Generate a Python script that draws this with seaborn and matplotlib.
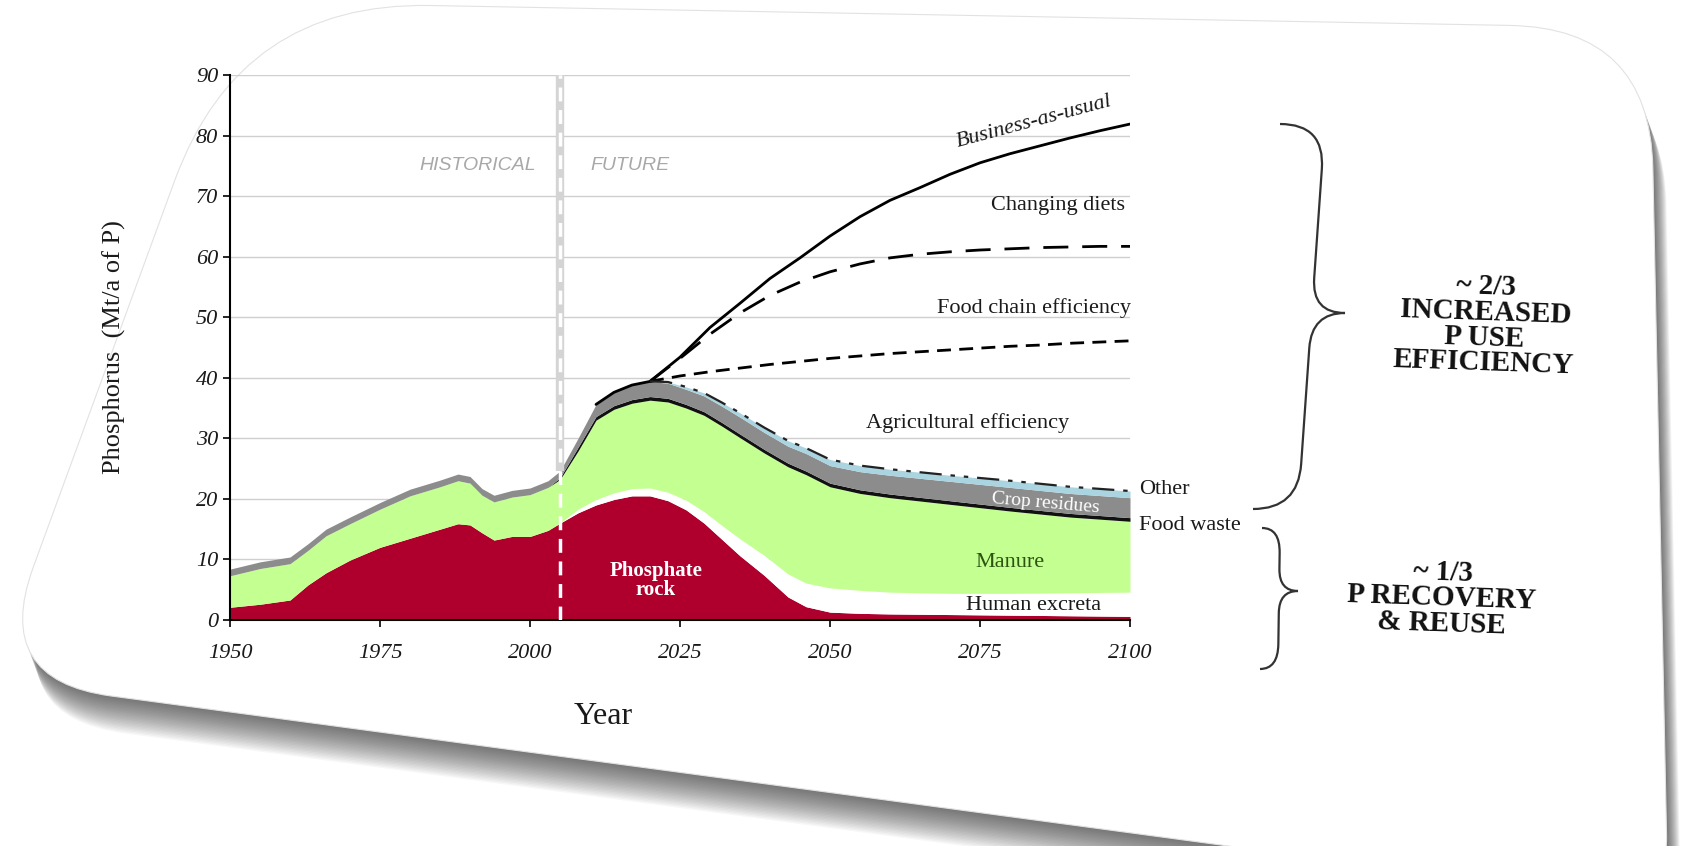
import numpy as np
import seaborn as sns
import matplotlib.pyplot as plt
from matplotlib.path import Path
from matplotlib.patches import PathPatch

W, H = 1691, 846

# stacked supply sources (Mt/a of P)
years = [1950, 1955, 1960, 1963, 1966, 1970, 1975, 1980, 1985, 1988,
         1990, 1992, 1994, 1997, 2000, 2003, 2005, 2008, 2011, 2014,
         2017, 2020, 2023, 2026, 2029, 2032, 2035, 2039, 2043, 2046,
         2050, 2055, 2060, 2070, 2080, 2090, 2100]
rock = [2.1, 2.6, 3.3, 5.8, 7.8, 9.9, 12.0, 13.5, 15.0, 15.9,
        15.7, 14.4, 13.2, 13.8, 13.8, 14.8, 16.0, 17.7, 19.0, 19.9,
        20.5, 20.5, 19.7, 18.2, 16.0, 13.3, 10.6, 7.4, 3.8, 2.2,
        1.3, 1.1, 1.0, 0.9, 0.8, 0.7, 0.6]
excreta = [0] * 17 + [0.6, 0.9, 1.1, 1.2, 1.3, 1.4, 1.6, 1.9, 2.3, 2.8,
                      3.3, 3.8, 3.9, 4.0, 3.8, 3.6, 3.5, 3.6, 3.8, 4.0]
manure = [5.2, 5.9, 6.0, 5.7, 6.1, 6.0, 6.3, 7.0, 7.0, 7.1,
          6.9, 6.2, 6.3, 6.5, 6.9, 7.1, 7.2, 9.6, 13.1, 13.8,
          14.1, 14.5, 14.9, 15.2, 15.9, 16.4, 16.7, 16.9, 17.7, 17.9,
          16.7, 16.0, 15.6, 14.7, 13.6, 12.5, 11.7]
food_waste = [0] * 16 + [0.3] + [0.6] * 20
crop_residues = [1.1] * 17 + [1.5, 2.0, 2.2, 2.4, 2.5, 2.5, 2.5, 2.6, 2.7, 2.8,
                              2.8, 2.8, 2.9, 2.9, 3.0, 3.1, 3.2, 3.3, 3.3, 3.3]
other = [0] * 22 + [0.2, 0.4, 0.5, 0.6, 0.7, 0.8, 0.9, 0.9, 1.0, 1.0,
                    1.0, 1.0, 1.1, 1.1, 1.1]

# demand scenarios
scen_years = list(range(2020, 2101, 5))
bau_years = [2011, 2014, 2017] + scen_years
bau = [35.6, 37.6, 38.8,
       39.4, 43.4, 48.3, 52.3, 56.4, 59.8, 63.4, 66.6, 69.3, 71.4, 73.6,
       75.5, 77.0, 78.3, 79.6, 80.8, 81.9]
diets = [39.4, 43.2, 47.2, 50.7, 53.6, 55.8, 57.5, 58.8, 59.8, 60.4,
         60.8, 61.1, 61.3, 61.5, 61.6, 61.7, 61.7]
food_chain = [39.4, 40.3, 41.0, 41.6, 42.2, 42.7, 43.2, 43.6, 44.0, 44.3,
              44.6, 44.9, 45.2, 45.4, 45.7, 45.9, 46.1]

x_ticks = [1950, 1975, 2000, 2025, 2050, 2075, 2100]
y_ticks = list(range(0, 91, 10))
divider_year = 2005

sns.set_theme(style="white")
plt.rcParams['font.family'] = ['Liberation Serif', 'DejaVu Serif']

fig = plt.figure(figsize=(W / 100, H / 100), dpi=100)
fig.patch.set_facecolor('white')


def fpos(x, y):
    # pixel (from top left) -> figure fraction
    return x / W, 1 - y / H


def rounded_path(corners, radii, dx=0, dy=0):
    pts = [np.array(c, float) + (dx, dy) for c in corners]
    n = len(pts)
    verts, codes = [], []
    for i in range(n):
        p, prev, nxt = pts[i], pts[i - 1], pts[(i + 1) % n]
        a = p + radii[i] * (prev - p) / np.linalg.norm(prev - p)
        b = p + radii[i] * (nxt - p) / np.linalg.norm(nxt - p)
        verts.append(a)
        codes.append(Path.MOVETO if i == 0 else Path.LINETO)
        verts += [p, b]
        codes += [Path.CURVE3, Path.CURVE3]
    verts.append(verts[0])
    codes.append(Path.CLOSEPOLY)
    return Path([fpos(*v) for v in verts], codes)


# tilted card with a soft shadow
card = [(240, 2), (1650, 28), (1668, 905), (-8, 680)]
card_r = [190, 140, 70, 120]
for k in range(1, 26):
    fig.add_artist(PathPatch(rounded_path(card, card_r, 0.55 * k, 1.5 * k),
                             transform=fig.transFigure, facecolor='#2a2a2a',
                             edgecolor='none', alpha=0.035, zorder=-10))
fig.add_artist(PathPatch(rounded_path(card, card_r), transform=fig.transFigure,
                         facecolor='white', edgecolor='#e2e2e2', lw=0.8, zorder=-9))


def brace(top, bottom, tip, end_off, curl, tip_curl):
    (xt, yt), (xb, yb), (xm, ym) = top, bottom, tip

    def sx(y):
        return xt + (xb - xt) * (y - yt) / (yb - yt)

    v = [(sx(yt) - end_off, yt), (sx(yt), yt), (sx(yt + curl), yt + curl),
         (sx(ym - tip_curl), ym - tip_curl), (sx(ym), ym), (xm, ym),
         (sx(ym), ym), (sx(ym + tip_curl), ym + tip_curl),
         (sx(yb - curl), yb - curl), (sx(yb), yb), (sx(yb) - end_off, yb)]
    c = [Path.MOVETO, Path.CURVE3, Path.CURVE3, Path.LINETO, Path.CURVE3, Path.CURVE3,
         Path.CURVE3, Path.CURVE3, Path.LINETO, Path.CURVE3, Path.CURVE3]
    fig.add_artist(PathPatch(Path([fpos(*p) for p in v], c), transform=fig.transFigure,
                             facecolor='none', edgecolor='#333333', lw=1.6))


ax = fig.add_axes([230 / W, 1 - 620 / H, 900 / W, 545 / H])
ax.set_facecolor('none')

yrs = np.array(years)
layers = np.array([rock, excreta, manure, food_waste, crop_residues, other], float)
colors = ['#AF002D', 'white', '#C4FF92', '#111111', '#8C8C8C', '#A9D4E0']
tops = np.cumsum(layers, axis=0)
base = np.zeros(len(years))
for top, col in zip(tops, colors):
    ax.fill_between(yrs, base, top, color=col, lw=0, zorder=2)
    base = top
total = tops[-1]

# scenario lines
sns.lineplot(x=bau_years, y=bau, color='black', lw=2, ax=ax, zorder=4)
sns.lineplot(x=scen_years, y=diets, color='black', lw=2,
             linestyle=(0, (9, 5)), ax=ax, zorder=4)
sns.lineplot(x=scen_years, y=food_chain, color='black', lw=2,
             linestyle=(0, (5, 3)), ax=ax, zorder=4)
late = yrs >= 2020
sns.lineplot(x=yrs[late], y=total[late], color='#222222', lw=1.6,
             linestyle=(0, (10, 4, 2, 4, 2, 4)), ax=ax, zorder=4)

# historical / future divider
i_div = years.index(divider_year)
ax.plot([divider_year, divider_year], [total[i_div], 90], color='#d4d4d4',
        lw=6, zorder=3, solid_capstyle='butt')
ax.plot([divider_year, divider_year], [0, 90], color='white', lw=2.5,
        linestyle=(0, (4, 2.5)), zorder=5)

ax.set_xlim(1950, 2100)
ax.set_ylim(0, 90)
ax.set_xticks(x_ticks, labels=[str(t) for t in x_ticks], fontstyle='italic')
ax.set_yticks(y_ticks, labels=[str(t) for t in y_ticks], fontstyle='italic')
ax.tick_params(axis='both', bottom=True, left=True, direction='out', length=5,
               width=1.2, color='black', labelsize=16, labelcolor='#1a1a1a')
ax.tick_params(axis='x', pad=12)
ax.yaxis.grid(True, color='#cfcfcf', lw=1)
ax.xaxis.grid(False)
ax.set_axisbelow(True)
for s in ['top', 'right']:
    ax.spines[s].set_visible(False)
for s in ['left', 'bottom']:
    ax.spines[s].set_color('black')
    ax.spines[s].set_linewidth(1.5)

ax.set_xlabel('Year', fontsize=23, color='#1a1a1a')
ax.xaxis.set_label_coords(0.415, -0.15)
ax.set_ylabel('Phosphorus  (Mt/a of P)', fontsize=19, color='#1a1a1a')
ax.yaxis.set_label_coords(-0.115, 0.5)

sans = ['Liberation Sans', 'DejaVu Sans']
ax.text(2001, 75, 'HISTORICAL', family=sans, style='italic', fontsize=14,
        color='#a8a8a8', ha='right', va='center')
ax.text(2010, 75, 'FUTURE', family=sans, style='italic', fontsize=14,
        color='#a8a8a8', ha='left', va='center')

lab = dict(fontsize=16, color='#1a1a1a', ha='center', va='center', clip_on=False, zorder=6)
ax.text(2084, 82.2, 'Business-as-usual', style='italic', rotation=15, **lab)
ax.text(2088, 68.5, 'Changing diets', **lab)
ax.text(2084, 51.5, 'Food chain efficiency', **lab)
ax.text(2073, 32.5, 'Agricultural efficiency', **lab)
ax.text(2021, 6.5, 'Phosphate\nrock', fontsize=15, fontweight='bold', color='white',
        ha='center', va='center', linespacing=0.95, zorder=6)
ax.text(2080, 9.5, 'Manure', fontsize=16, color='#2c5410', ha='center', va='center', zorder=6)
ax.text(2086, 19.3, 'Crop residues', fontsize=14, color='white', rotation=-5,
        ha='center', va='center', zorder=6)
ax.text(2084, 2.4, 'Human excreta', **lab)
ax.text(2101.5, 21.6, 'Other', fontsize=16, color='#1a1a1a', ha='left',
        va='center', clip_on=False)
ax.text(2101.5, 15.6, 'Food waste', fontsize=16, color='#1a1a1a', ha='left',
        va='center', clip_on=False)

brace((1325, 124), (1298, 509), (1345, 313), 45, 45, 35)
brace((1280, 528), (1278, 669), (1298, 591), 18, 25, 22)

big = dict(fontsize=21, fontweight='bold', color='#111111', ha='center',
           va='center', linespacing=0.92)
fig.text(*fpos(1485, 325), '~ 2/3\nINCREASED\nP USE\nEFFICIENCY', rotation=-2, **big)
fig.text(*fpos(1442, 598), '~ 1/3\nP RECOVERY\n& REUSE', rotation=-2, **big)

fig.savefig('out.png', dpi=100, facecolor='white')
